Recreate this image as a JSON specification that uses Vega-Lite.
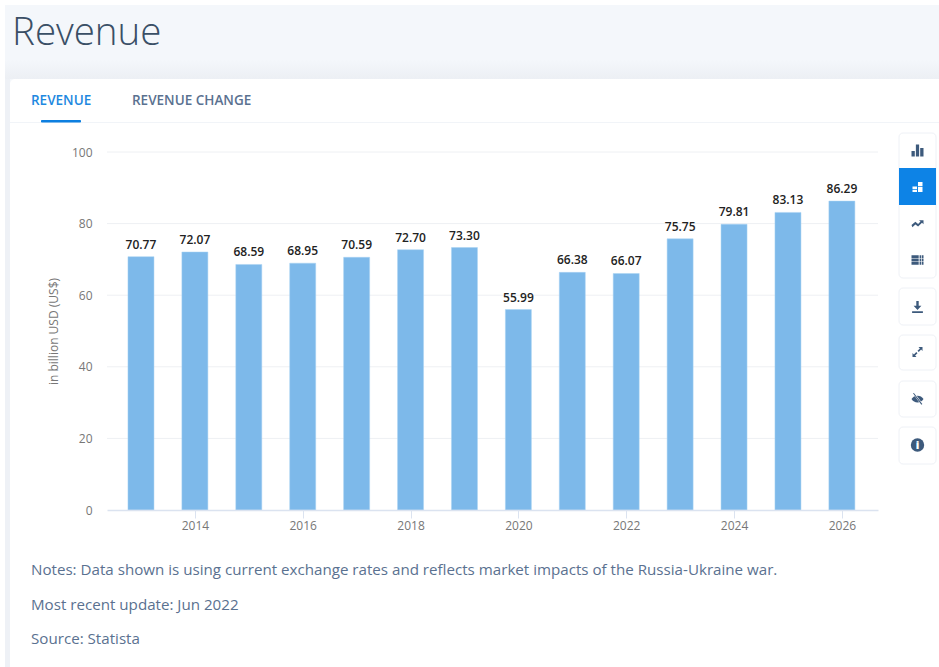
{
  "$schema": "https://vega.github.io/schema/vega-lite/v6.json",
  "width": 771,
  "height": 358,
  "autosize": "none",
  "padding": {"left": 107, "top": 152, "right": 61, "bottom": 157},
  "background": "#ffffff",
  "config": {"font": "Open Sans", "view": {"stroke": null}},
  "datasets": {
    "revenue": [
      {"year": 2013, "revenue": 70.77},
      {"year": 2014, "revenue": 72.07},
      {"year": 2015, "revenue": 68.59},
      {"year": 2016, "revenue": 68.95},
      {"year": 2017, "revenue": 70.59},
      {"year": 2018, "revenue": 72.70},
      {"year": 2019, "revenue": 73.30},
      {"year": 2020, "revenue": 55.99},
      {"year": 2021, "revenue": 66.38},
      {"year": 2022, "revenue": 66.07},
      {"year": 2023, "revenue": 75.75},
      {"year": 2024, "revenue": 79.81},
      {"year": 2025, "revenue": 83.13},
      {"year": 2026, "revenue": 86.29}
    ],
    "gridLevels": [{"level": 20}, {"level": 40}, {"level": 60}, {"level": 80}, {"level": 100}],
    "one": [{}]
  },
  "layer": [
    {"data": {"name": "one"}, "mark": {"type": "rect", "x": -102, "x2": 832, "y": -147, "y2": 515, "fill": "#f4f7fb"}, "encoding": {}},
    {"data": {"name": "one"}, "mark": {"type": "rect", "x": -102, "x2": 832, "y": -92, "y2": -73, "fill": {"x1": 0, "y1": 0, "x2": 0, "y2": 1, "gradient": "linear", "stops": [{"offset": 0, "color": "#f4f7fb"}, {"offset": 1, "color": "#eceff4"}]}}, "encoding": {}},
    {"data": {"name": "one"}, "mark": {"type": "rect", "x": -102, "x2": -97, "y": -73, "y2": 515, "fill": "#eef1f6"}, "encoding": {}},
    {"data": {"name": "one"}, "mark": {"type": "rect", "x": -97, "x2": 850, "y": -73, "y2": 530, "fill": "#ffffff", "cornerRadius": 5}, "encoding": {}},
    {"data": {"name": "one"}, "mark": {"type": "rect", "x": -97, "x2": 832, "y": -30, "y2": -29, "fill": "#f1f4f8"}, "encoding": {}},
    {"data": {"name": "one"}, "mark": {"type": "rect", "x": -66, "x2": -26, "y": -32, "y2": -29.5, "fill": "#0d7fe0", "cornerRadius": 1}, "encoding": {}},
    {"data": {"name": "one"}, "mark": {"type": "text", "x": -95, "y": -119, "text": "Revenue", "align": "left", "baseline": "middle", "fontSize": 38.5, "fontWeight": 300, "fill": "#3a4f66"}, "encoding": {}},
    {"data": {"name": "one"}, "mark": {"type": "text", "x": -76, "y": -51.5, "text": "REVENUE", "align": "left", "baseline": "middle", "fontSize": 13.5, "fontWeight": 600, "fill": "#1e88e0"}, "encoding": {}},
    {"data": {"name": "one"}, "mark": {"type": "text", "x": 25, "y": -51.5, "text": "REVENUE CHANGE", "align": "left", "baseline": "middle", "fontSize": 13.5, "fontWeight": 600, "fill": "#5a7190"}, "encoding": {}},
    {"data": {"name": "one"}, "mark": {"type": "text", "x": -76, "y": 417.5, "text": "Notes: Data shown is using current exchange rates and reflects market impacts of the Russia-Ukraine war.", "align": "left", "baseline": "middle", "fontSize": 15.15, "fill": "#5a7190"}, "encoding": {}},
    {"data": {"name": "one"}, "mark": {"type": "text", "x": -76, "y": 452.5, "text": "Most recent update: Jun 2022", "align": "left", "baseline": "middle", "fontSize": 15.15, "fill": "#5a7190"}, "encoding": {}},
    {"data": {"name": "one"}, "mark": {"type": "text", "x": -76, "y": 486.5, "text": "Source: Statista", "align": "left", "baseline": "middle", "fontSize": 15.15, "fill": "#5a7190"}, "encoding": {}},

    {"data": {"name": "one"}, "mark": {"type": "rect", "x": 792, "x2": 829, "y": -19, "y2": 126, "fill": "#ffffff", "cornerRadius": 4, "stroke": "#eef1f6", "strokeWidth": 1}, "encoding": {}},
    {"data": {"name": "one"}, "mark": {"type": "rect", "x": 792, "x2": 829, "y": 16, "y2": 53, "fill": "#0d83e6"}, "encoding": {}},
    {"data": {"name": "one"}, "mark": {"type": "rect", "x": 792, "x2": 829, "y": 136, "y2": 173, "fill": "#ffffff", "cornerRadius": 4, "stroke": "#eef1f6", "strokeWidth": 1}, "encoding": {}},
    {"data": {"name": "one"}, "mark": {"type": "rect", "x": 792, "x2": 829, "y": 183, "y2": 218, "fill": "#ffffff", "cornerRadius": 4, "stroke": "#eef1f6", "strokeWidth": 1}, "encoding": {}},
    {"data": {"name": "one"}, "mark": {"type": "rect", "x": 792, "x2": 829, "y": 229, "y2": 265, "fill": "#ffffff", "cornerRadius": 4, "stroke": "#eef1f6", "strokeWidth": 1}, "encoding": {}},
    {"data": {"name": "one"}, "mark": {"type": "rect", "x": 792, "x2": 829, "y": 275, "y2": 312, "fill": "#ffffff", "cornerRadius": 4, "stroke": "#eef1f6", "strokeWidth": 1}, "encoding": {}},

    {"data": {"name": "one"}, "mark": {"type": "point", "x": 810.5, "y": -1.5, "size": 144, "filled": true, "opacity": 1, "fill": "#3d5a7c", "shape": "M-1 1V.1H-.45V1ZM-.27 1V-1H.27V1ZM.45 1V-.4H1V1Z"}, "encoding": {}},
    {"data": {"name": "one"}, "mark": {"type": "point", "x": 810.5, "y": 35, "size": 100, "filled": true, "opacity": 1, "fill": "#ffffff", "shape": "M-1 -.1H-.1V.4H-1ZM-1 .55H-.1V1H-1ZM.1 -1H1V-.15H.1ZM.1 0H1V1H.1Z"}, "encoding": {}},
    {"data": {"name": "one"}, "mark": {"type": "point", "x": 810.5, "y": 71, "size": 144, "filled": true, "opacity": 1, "fill": "#3d5a7c", "shape": "M-1 .35L-.35 -.2L.1 .15L.5 -.25L.25 -.45H1V.2L.75 -.05L.1 .6L-.35 .25L-.85 .7Z"}, "encoding": {}},
    {"data": {"name": "one"}, "mark": {"type": "point", "x": 810.5, "y": 108, "size": 144, "filled": true, "opacity": 1, "fill": "#3d5a7c", "shape": "M-1 -.8H.2V-.3H-1ZM.35 -.8H.62V-.3H.35ZM.73 -.8H1V-.3H.73ZM-1 -.2H.2V.2H-1ZM.35 -.2H.62V.2H.35ZM.73 -.2H1V.2H.73ZM-1 .3H.2V.8H-1ZM.35 .3H.62V.8H.35ZM.73 .3H1V.8H.73Z"}, "encoding": {}},
    {"data": {"name": "one"}, "mark": {"type": "point", "x": 810.5, "y": 155, "size": 144, "filled": true, "opacity": 1, "fill": "#3d5a7c", "shape": "M-.2 -1H.2V-.2H.65L0 .5L-.65 -.2H-.2ZM-.9 .7H.9V1H-.9Z"}, "encoding": {}},
    {"data": {"name": "one"}, "mark": {"type": "point", "x": 810.5, "y": 200, "size": 100, "filled": true, "opacity": 1, "fill": "#3d5a7c", "shape": "M.2 -1H1V-.2L.72 -.48L.25 0L0 -.25L.48 -.72ZM-1 .2L-.72 .48L-.25 0L0 .25L-.48 .72L-.2 1H-1Z"}, "encoding": {}},
    {"data": {"name": "one"}, "mark": {"type": "point", "x": 810.5, "y": 247, "size": 144, "filled": true, "opacity": 1, "fill": "#3d5a7c", "shape": "M-1 0C-.6 -.75 .6 -.75 1 0C.6 .75 -.6 .75 -1 0Z"}, "encoding": {}},
    {"data": {"name": "one"}, "mark": {"type": "point", "x": 810.5, "y": 247, "size": 144, "filled": true, "opacity": 1, "fill": "#ffffff", "shape": "M-.8 -.95L-.5 -1.05L.85 .8L.6 1Z"}, "encoding": {}},
    {"data": {"name": "one"}, "mark": {"type": "point", "x": 810.5, "y": 247, "size": 144, "filled": true, "opacity": 1, "fill": "#3d5a7c", "shape": "M-.75 -.95L-.6 -1L.8 .85L.65 .95Z"}, "encoding": {}},
    {"data": {"name": "one"}, "mark": {"type": "point", "x": 810.5, "y": 293, "size": 180, "filled": true, "opacity": 1, "fill": "#3d5a7c", "shape": "circle"}, "encoding": {}},
    {"data": {"name": "one"}, "mark": {"type": "text", "x": 810.5, "y": 293.5, "text": "i", "align": "center", "baseline": "middle", "fontSize": 11, "fontWeight": 800, "fill": "#ffffff"}, "encoding": {}},

    {
      "data": {"name": "gridLevels"},
      "mark": {"type": "rule", "color": "#eef0f3", "strokeWidth": 1},
      "encoding": {
        "y": {
          "field": "level",
          "type": "quantitative",
          "scale": {"domain": [0, 100], "nice": false},
          "axis": {
            "values": [0, 20, 40, 60, 80, 100],
            "title": "in billion USD (US$)",
            "grid": false,
            "zindex": 1,
            "domain": false,
            "ticks": false,
            "labelPadding": 15,
            "labelFontSize": 12,
            "labelColor": "#777777",
            "titleColor": "#777777",
            "titleFontSize": 12,
            "titleFontWeight": "normal",
            "titlePadding": 11
          }
        }
      }
    },
    {
      "data": {"name": "revenue"},
      "mark": {"type": "bar", "width": 26, "fill": "#7db9ea", "stroke": "#a9d2f3", "strokeWidth": 0.5, "orient": "vertical"},
      "encoding": {
        "x": {
          "field": "year",
          "type": "quantitative",
          "scale": {"domain": [2012.37, 2026.67], "nice": false, "zero": false, "padding": 0},
          "axis": {
            "values": [2014, 2016, 2018, 2020, 2022, 2024, 2026],
            "format": "d",
            "title": null,
            "grid": false,
            "zindex": 1,
            "domainColor": "#dbe3f0",
            "domainWidth": 1.5,
            "tickColor": "#dbe3f0",
            "tickSize": 8,
            "labelPadding": 2,
            "labelFontSize": 12,
            "labelColor": "#777777",
            "labelFont": "Open Sans"
          }
        },
        "y": {
          "field": "revenue",
          "type": "quantitative",
          "title": "in billion USD (US$)"
        }
      }
    },
    {
      "data": {"name": "revenue"},
      "mark": {"type": "text", "baseline": "bottom", "dy": -5, "fontSize": 12, "fontWeight": 600, "fill": "#222222"},
      "encoding": {
        "x": {"field": "year", "type": "quantitative"},
        "y": {"field": "revenue", "type": "quantitative"},
        "text": {"field": "revenue", "type": "quantitative", "format": ".2f"}
      }
    }
  ]
}
